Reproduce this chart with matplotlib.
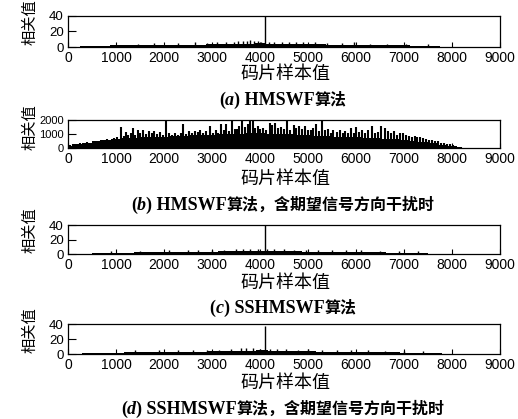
import numpy as np
import matplotlib.pyplot as plt
from matplotlib.offsetbox import TextArea, HPacker, AnnotationBbox

# (a) HMSWF
a_bx = list(range(250, 7751, 250))
a_by = [1.3, 1.5, 1.7, 2.0, 2.2, 2.4, 2.6, 2.8, 2.9, 3.0, 3.2, 3.4, 3.7, 4.0, 4.4, 4.8,
        4.4, 4.1, 3.8, 3.6, 3.3, 3.0, 2.9, 2.8, 2.6, 2.5, 2.2, 2.0, 1.8, 1.5, 1.3]
a_sx = [1450, 1800, 2300, 2650, 2900, 3100, 3300, 3450, 3550, 3650, 3720, 3800, 3880, 3950,
        4020, 4096, 4180, 4300, 4450, 4600, 4750, 4900, 5150, 5400, 5700, 5950, 6300, 6650, 7050, 7500]
a_sy = [4.5, 5.0, 5.0, 6.0, 5.5, 6.0, 6.5, 7.0, 7.5, 8.0, 7.5, 8.5, 8.0, 7.5,
        7.0, 40, 7.0, 6.5, 7.0, 6.5, 6.0, 6.5, 6.0, 5.5, 5.5, 6.0, 4.5, 4.5, 4.0, 3.5]

# (b) HMSWF, with interference from desired direction
b_bx = list(range(0, 8201, 200))
b_by = [150, 280, 370, 470, 550, 620, 680, 720, 780, 800, 820, 840, 870, 900, 930, 960,
        990, 1010, 1030, 1040, 1040, 1030, 1010, 980, 950, 920, 890, 850, 810, 780, 750,
        720, 690, 660, 620, 570, 500, 430, 340, 230, 120, 60]
b_sx = [40, 100, 180, 260, 330, 400, 470, 540, 610, 680, 750, 820, 890, 960,
        1030, 1100, 1160, 1200, 1260, 1310, 1350, 1400, 1450, 1500, 1560, 1620, 1680, 1740,
        1800, 1860, 1920, 1980,
        2050, 2110, 2170, 2230, 2290, 2350, 2400, 2460, 2520, 2580, 2640, 2700, 2760, 2820,
        2880, 2960,
        3020, 3080, 3130, 3180, 3240, 3300, 3360, 3420, 3470, 3520, 3570, 3620, 3680, 3740,
        3800, 3850, 3900, 3950, 4000,
        4060, 4120, 4200, 4260, 4320, 4380, 4440, 4500, 4560, 4620, 4700, 4760, 4820, 4880,
        4940, 5000,
        5060, 5110, 5170, 5230, 5290, 5350, 5410, 5470, 5530, 5600, 5660, 5720, 5780, 5840,
        5900, 5960,
        6000, 6060, 6120, 6180, 6240, 6330, 6400, 6460, 6530, 6600, 6670, 6730, 6800, 6860,
        6920, 6980,
        7050, 7100, 7160, 7220, 7280, 7340, 7400, 7460, 7520, 7580, 7640, 7700, 7770, 7830,
        7900, 7960, 8020, 8100, 8180]
b_sy = [180, 260, 300, 380, 340, 420, 380, 480, 450, 560, 520, 640, 600, 700,
        760, 1520, 880, 1140, 900, 1050, 1450, 950, 1250, 1100, 1300, 980, 1200, 1050,
        1220, 1000, 1150, 950,
        2000, 1050, 900, 1100, 950, 1050, 1690, 1000, 1200, 1100, 1220, 1150, 1250, 1100,
        1200, 1570,
        1100, 1250, 1050, 1690, 1300, 1690, 1200, 2000, 1350, 1330, 1600, 2000, 1500, 1700,
        2000, 1930, 1400, 1550, 1330,
        1450, 1300, 1800, 1650, 1800, 1400, 1500, 1350, 2000, 1300, 1620, 1400, 1550, 1330,
        1600, 1300,
        1250, 1400, 1690, 1200, 2000, 1250, 1330, 1100, 1250, 1150, 1300, 1050, 1200, 1100,
        1450, 1100,
        1500, 1150, 1300, 1050, 1250, 1570, 1050, 1150, 1570, 1450, 1210, 1100, 1210, 950,
        1100, 1050,
        900, 860, 800, 850, 760, 800, 700, 620, 600, 560, 520, 480, 380, 340,
        300, 260, 180, 100, 90]

# (c) SSHMSWF
c_bx = list(range(500, 7701, 250))
c_by = [1.3, 1.5, 1.7, 1.9, 2.1, 2.3, 2.5, 2.7, 2.9, 3.1, 3.3, 3.6, 3.9, 4.2, 4.5,
        4.2, 3.9, 3.6, 3.3, 3.1, 2.9, 2.7, 2.6, 2.4, 2.2, 2.0, 1.8, 1.5, 1.3]
c_sx = [900, 1500, 2100, 2500, 2700, 3000, 3250, 3500, 3650, 3800, 3950, 4096, 4150, 4300,
        4500, 4700, 4950, 5200, 5500, 5800, 6100, 6500, 6900, 7300]
c_sy = [4.0, 4.5, 5.0, 5.5, 6.0, 5.5, 6.0, 6.5, 7.0, 7.5, 7.0, 40, 7.5, 6.5,
        6.5, 6.0, 6.0, 5.5, 5.5, 5.0, 5.0, 4.5, 4.0, 3.5]

# (d) SSHMSWF, with interference from desired direction
d_bx = list(range(300, 7801, 250))
d_by = [1.2, 1.4, 1.6, 1.8, 2.0, 2.2, 2.4, 2.6, 2.8, 3.0, 3.2, 3.4, 3.7, 4.0, 4.4, 4.7,
        4.3, 4.0, 3.7, 3.5, 3.2, 3.0, 2.8, 2.6, 2.5, 2.3, 2.1, 1.8, 1.6, 1.4, 1.2]
d_sx = [1400, 1900, 2300, 2600, 2900, 3150, 3400, 3600, 3700, 3850, 4000, 4096, 4200, 4350,
        4550, 4800, 5000, 5300, 5600, 5900, 6250, 6600, 7000, 7400]
d_sy = [5.0, 5.5, 5.5, 6.0, 6.0, 6.0, 6.5, 7.5, 8.0, 7.5, 7.0, 37, 7.0, 6.5,
        6.5, 6.0, 6.5, 5.5, 5.5, 5.5, 5.0, 4.5, 4.5, 3.5]

xticks = list(range(0, 9001, 1000))
title_tags = ['a', 'b', 'c', 'd']
title_latin = [') HMSWF', ') HMSWF', ') SSHMSWF', ') SSHMSWF']
title_cn = ['算法', '算法，含期望信号方向干扰时', '算法', '算法，含期望信号方向干扰时']

W, H = 518, 419
fig = plt.figure(figsize=(W / 100, H / 100), dpi=100)

# top, bottom of each axes (pixels), ylabel centre, xlabel y, title y
boxes = [(16, 47, 22, 74, 100), (120, 148, 127, 179, 205),
         (225, 254, 230, 283, 308), (324, 354, 330, 383, 409)]
data = [(a_bx, a_by, a_sx, a_sy, 40, [0, 20, 40], 1.0),
        (b_bx, b_by, b_sx, b_sy, 2000, [0, 1000, 2000], 1.5),
        (c_bx, c_by, c_sx, c_sy, 40, [0, 20, 40], 1.0),
        (d_bx, d_by, d_sx, d_sy, 40, [0, 20, 40], 1.0)]

cjk = ['Noto Sans CJK SC', 'DejaVu Sans']
for i, ((top, bot, ylc, xly, tty), (bx, by, sx, sy, ymax, yt, slw)) in enumerate(zip(boxes, data)):
    ax = fig.add_axes([68 / W, 1 - bot / H, 432 / W, (bot - top) / H])
    ax.fill_between(bx, 0, by, step='mid', color='black', lw=0)
    ax.vlines(sx, 0, sy, color='black', lw=slw)
    ax.set_xlim(0, 9000)
    ax.set_ylim(0, ymax)
    ax.set_xticks(xticks)
    ax.set_yticks(yt)
    ax.tick_params(axis='both', direction='in', pad=3, width=0.8)
    ax.tick_params(axis='x', length=3.3, labelsize=10)
    ax.tick_params(axis='y', length=5.5, labelsize=8 if ymax > 100 else 9.5)
    for lab in ax.get_xticklabels() + ax.get_yticklabels():
        lab.set_family('Liberation Sans')
    for s in ax.spines.values():
        s.set_linewidth(0.9)
    fig.text(30 / W, 1 - ylc / H, '相关值', rotation=90, ha='center', va='center',
             fontsize=11, family=cjk)
    fig.text(285 / W, 1 - xly / H, '码片样本值', ha='center', va='center',
             fontsize=13, family=cjk)
    lat = dict(fontsize=13, weight='bold', family='Liberation Serif')
    parts = [TextArea('(', textprops=lat),
             TextArea(title_tags[i], textprops=dict(lat, style='italic')),
             TextArea(title_latin[i], textprops=lat),
             TextArea(title_cn[i], textprops=dict(fontsize=11.5, weight='bold', family=cjk))]
    pack = HPacker(children=parts, pad=0, sep=0, align='baseline')
    fig.add_artist(AnnotationBbox(pack, (283 / W, 1 - tty / H), xycoords='figure fraction',
                                  frameon=False, box_alignment=(0.5, 0.5), pad=0))

fig.savefig('out.png', dpi=100)
